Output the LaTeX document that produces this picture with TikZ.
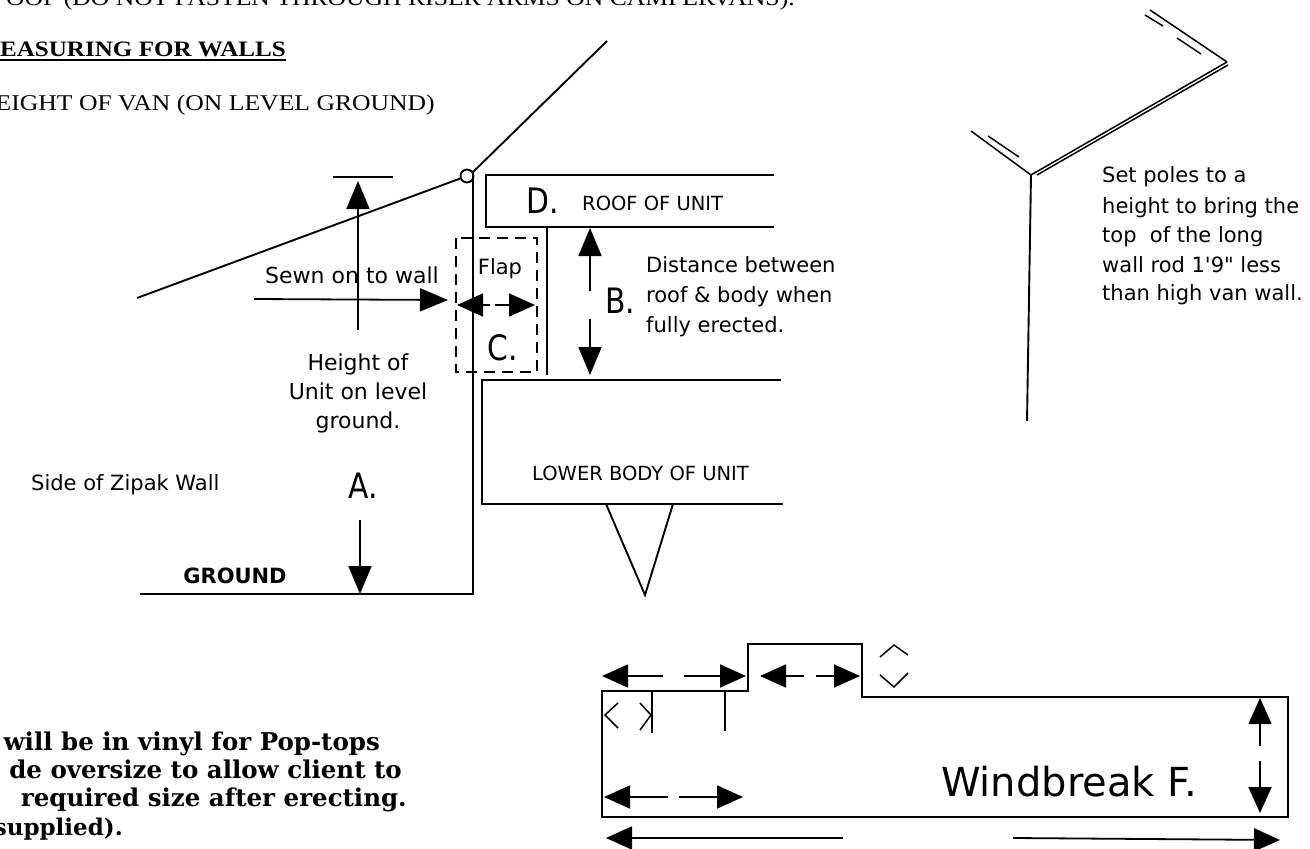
\documentclass[tikz,border=0pt]{standalone}
\usepackage{fontspec}
\usetikzlibrary{arrows.meta}
\setmainfont{Liberation Serif}
\newfontfamily\wideserif[FakeStretch=1.14]{Liberation Serif}
\newfontfamily\macfont{DejaVu Sans}
\newfontfamily\bigmac[FakeStretch=0.85]{DejaVu Sans}
\newfontfamily\heavyfont{DejaVu Serif}
\tikzset{
  ln/.style={draw=black,line width=1.9pt},
  thin ln/.style={draw=black,line width=1.5pt},
  dashbox/.style={draw=black,line width=1.9pt,dash pattern=on 11pt off 7pt},
  tipa/.style={draw=black,line width=1.8pt,-{Triangle[length=28pt,width=23pt,fill=black]}},
  tipb/.style={draw=black,line width=1.8pt,-{Triangle[length=26pt,width=23pt,fill=black]}},
  lab/.style={font=\macfont\fontsize{21}{21}\selectfont,inner sep=0pt,text=black,text height=15pt,text depth=5pt},
  caplab/.style={font=\macfont\fontsize{19.5}{20}\selectfont,inner sep=0pt,text=black,text height=15pt,text depth=5pt},
  big/.style={font=\bigmac\fontsize{35}{35}\selectfont,inner sep=0pt,text=black,text height=26pt,text depth=0pt},
  serif/.style={font=\wideserif\fontsize{22.5}{22.5}\selectfont,inner sep=0pt,anchor=base east,text=black},
  heavy/.style={font=\heavyfont\bfseries\fontsize{24.5}{24.5}\selectfont,inner sep=0pt,anchor=base east,text=black},
}
\begin{document}
\begin{tikzpicture}[x=1pt,y=-1pt]
\useasboundingbox (0,0) rectangle (1310,849);
\clip (0,0) rectangle (1310,849);
% ---- printed text
\node[serif] (t1) at (795,5) {OOF (DO NOT FASTEN THROUGH RISER ARMS ON CAMPERVANS).};
\node[serif,font=\wideserif\bfseries\fontsize{22}{22}\selectfont] (t2) at (286,56) {EASURING FOR WALLS};
\coordinate (u1) at (0,60); \coordinate (u2) at (286,60);
\draw[ln] (u1) -- (u2);
\node[serif] (t3) at (435,110) {EIGHT OF VAN (ON LEVEL GROUND)};
\node[heavy] (b1) at (380,750) {will be in vinyl for Pop-tops};
\node[heavy] (b2) at (402,778) {de oversize to allow client to};
\node[heavy] (b3) at (407,806) {required size after erecting.};
\node[heavy,font=\heavyfont\bfseries\fontsize{23}{23}\selectfont] (b4) at (123,835) {supplied).};
% ---- van section
\coordinate (gl) at (140,594);
\coordinate (gr) at (473,594);
\coordinate (wt) at (473,172);
\coordinate (rtop) at (607,41);
\coordinate (sl) at (137,298);
\node[draw=black,fill=white,circle,line width=1.9pt,minimum size=13pt,inner sep=0pt] (hinge) at (467,176) {};
\draw[ln] (gl) -- (gr) -- (wt) -- (rtop);
\draw[ln] (sl) -- (hinge);
% roof
\coordinate (ra) at (774,175); \coordinate (rb) at (486,175);
\coordinate (rc) at (486,227); \coordinate (rd) at (774,227);
\draw[ln] (ra) -- (rb) -- (rc) -- (rd);
\coordinate (sa) at (547,227); \coordinate (sb) at (547,375);
\draw[ln] (sa) -- (sb);
% lower body
\coordinate (la) at (781,380); \coordinate (lb) at (482,380);
\coordinate (lc) at (482,504); \coordinate (ld) at (783,504);
\draw[ln] (la) -- (lb) -- (lc) -- (ld);
\coordinate (va) at (606,504); \coordinate (vb) at (645,595); \coordinate (vc) at (673,504);
\draw[ln] (va) -- (vb) -- (vc);
% flap box
\coordinate (fa) at (456,238); \coordinate (fb) at (537,372);
\draw[dashbox] (fa) rectangle (fb);
% A arrow
\coordinate (atb) at (333,177); \coordinate (ate) at (393,177);
\draw[ln] (atb) -- (ate);
\coordinate (a1) at (358,330); \coordinate (a2) at (358,181);
\draw[tipa] (a1) -- (a2);
\coordinate (a3) at (360,520); \coordinate (a4) at (360,594);
\draw[tipa] (a3) -- (a4);
% Sewn arrow
\coordinate (s1) at (254,299); \coordinate (s2) at (448,300);
\draw[tipa] (s1) -- (s2);
% flap arrow
\coordinate (fl) at (457,305); \coordinate (fr) at (535,305);
\coordinate (fm1) at (490,305); \coordinate (fm2) at (495,305);
\draw[tipb] (fm1) -- (fl);
\draw[tipb] (fm2) -- (fr);
% B arrow
\coordinate (b1a) at (590,291); \coordinate (b1b) at (590,228);
\draw[tipa] (b1a) -- (b1b);
\coordinate (b2a) at (590,319); \coordinate (b2b) at (590,375);
\draw[tipa] (b2a) -- (b2b);
% labels
\node[lab,font=\macfont\fontsize{22}{22}\selectfont] (l1) at (352,278) {Sewn on to wall};
\node[lab,font=\macfont\fontsize{22}{22}\selectfont] (l2) at (358,365) {Height of};
\node[lab,font=\macfont\fontsize{22}{22}\selectfont] (l3) at (358,394) {Unit on level};
\node[lab,font=\macfont\fontsize{22}{22}\selectfont] (l4) at (358,423) {ground.};
\node[big] (A) at (363,485) {A.};
\node[lab,anchor=west] (l5) at (31,485) {Side of Zipak Wall};
\node[lab,font=\macfont\bfseries\fontsize{21}{21}\selectfont,text height=16pt,text depth=0pt] (gnd) at (235,575) {GROUND};
\node[big] (D) at (543,200) {D.};
\node[caplab,anchor=west] (l6) at (582,205) {ROOF OF UNIT};
\node[lab] (l7) at (500,269) {Flap};
\node[big] (C) at (503,347) {C.};
\node[big] (B) at (620,300) {B.};
\node[lab,anchor=west] (l8) at (646,267) {Distance between};
\node[lab,anchor=west] (l9) at (646,297) {roof \& body when};
\node[lab,anchor=west] (l10) at (646,327) {fully erected.};
\node[caplab,anchor=west] (l11) at (532,475) {LOWER BODY OF UNIT};
% ---- pole sketch
\coordinate (p0) at (1031,175); \coordinate (p1) at (1027,421);
\draw[ln] (p0) -- (p1);
\coordinate (p2) at (971,131);
\draw[thin ln] (p2) -- (p0);
\coordinate (p3) at (988,136); \coordinate (p4) at (1019,157);
\draw[thin ln] (p3) -- (p4);
\coordinate (p5) at (1227,62); \coordinate (p6) at (1037,175); \coordinate (p7) at (1228,65);
\draw[thin ln] (p0) -- (p5);
\draw[thin ln] (p6) -- (p7);
\coordinate (p8) at (1150,10);
\draw[thin ln] (p8) -- (p5);
\coordinate (p9) at (1145,15); \coordinate (p10) at (1163,26);
\coordinate (p11) at (1177,38); \coordinate (p12) at (1201,54);
\draw[thin ln] (p9) -- (p10);
\draw[thin ln] (p11) -- (p12);
\node[lab,anchor=west] (n1) at (1102,177) {Set poles to a};
\node[lab,anchor=west] (n2) at (1102,208) {height to bring the};
\node[lab,anchor=west] (n3) at (1102,237) {top\ \ of the long};
\node[lab,anchor=west] (n4) at (1102,267) {wall rod 1'9" less};
\node[lab,anchor=west] (n5) at (1102,295) {than high van wall.};
% ---- windbreak
\coordinate (w1) at (602,691); \coordinate (w2) at (748,691); \coordinate (w3) at (748,644);
\coordinate (w4) at (862,644); \coordinate (w5) at (862,697); \coordinate (w6) at (1288,697);
\coordinate (w7) at (1288,817); \coordinate (w8) at (602,817);
\draw[ln] (w1) -- (w2) -- (w3) -- (w4) -- (w5) -- (w6) -- (w7) -- (w8) -- cycle;
\coordinate (x1) at (652,691); \coordinate (x2) at (652,733);
\coordinate (x3) at (725,691); \coordinate (x4) at (725,731);
\draw[ln] (x1) -- (x2);
\draw[ln] (x3) -- (x4);
% top-left double arrow
\coordinate (q1) at (663,676); \coordinate (q2) at (602,676);
\coordinate (q3) at (684,676); \coordinate (q4) at (746,676);
\draw[tipb] (q1) -- (q2);
\draw[tipb] (q3) -- (q4);
% top-mid double arrow
\coordinate (q5) at (804,676); \coordinate (q6) at (760,676);
\coordinate (q7) at (816,676); \coordinate (q8) at (860,676);
\draw[tipb] (q5) -- (q6);
\draw[tipb] (q7) -- (q8);
% lower-left double arrow
\coordinate (q9) at (668,797); \coordinate (q10) at (604,797);
\coordinate (q11) at (679,797); \coordinate (q12) at (743,797);
\draw[tipb] (q9) -- (q10);
\draw[tipb] (q11) -- (q12);
% bottom arrow
\coordinate (q13) at (843,838); \coordinate (q14) at (606,838);
\coordinate (q15) at (1013,838); \coordinate (q16) at (1280,840);
\draw[tipb] (q13) -- (q14);
\draw[tipb] (q15) -- (q16);
% right vertical arrow
\coordinate (q17) at (1260,746); \coordinate (q18) at (1260,698);
\coordinate (q19) at (1260,761); \coordinate (q20) at (1260,813);
\draw[tipb] (q17) -- (q18);
\draw[tipb] (q19) -- (q20);
% chevrons
\coordinate (c1) at (880,657); \coordinate (c2) at (894,645); \coordinate (c3) at (908,655);
\coordinate (c4) at (880,675); \coordinate (c5) at (894,687); \coordinate (c6) at (908,673);
\draw[thin ln] (c1) -- (c2) -- (c3);
\draw[thin ln] (c4) -- (c5) -- (c6);
\coordinate (c7) at (618,703); \coordinate (c8) at (605,715); \coordinate (c9) at (618,728);
\coordinate (c10) at (640,703); \coordinate (c11) at (651,715); \coordinate (c12) at (640,730);
\draw[thin ln] (c7) -- (c8) -- (c9);
\draw[thin ln] (c10) -- (c11) -- (c12);
\node[lab,font=\macfont\fontsize{40}{40}\selectfont,text height=29pt,text depth=0pt] (wb) at (1069,782) {Windbreak F.};
\end{tikzpicture}
\end{document}
